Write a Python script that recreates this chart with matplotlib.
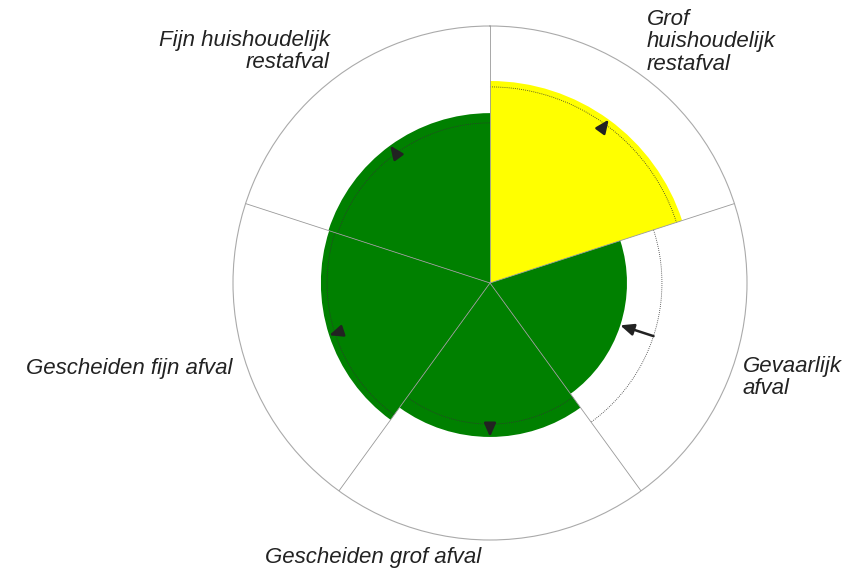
import numpy as np
import matplotlib
matplotlib.use("Agg")
import matplotlib.pyplot as plt

categories = ["Grof\nhuishoudelijk\nrestafval", "Gevaarlijk\nafval", "Gescheiden grof afval",
              "Gescheiden fijn afval", "Fijn huishoudelijk\nrestafval"]
current = [78.6, 53.3, 59.9, 65.8, 66.1]
previous = [76.3, 66.9, 54.9, 63.4, 62.3]
colors = ["#ffff00", "#008000", "#008000", "#008000", "#008000"]
rmax = 100

W, H = 862, 572
fig = plt.figure(figsize=(W / 100, H / 100), dpi=100)
cx, cy, R = 490, 283, 257
ax = fig.add_axes([(cx - R) / W, (H - cy - R) / H, 2 * R / W, 2 * R / H], projection="polar")
ax.set_theta_zero_location("N")
ax.set_theta_direction(-1)
n = len(categories)
width = 2 * np.pi / n
starts = np.arange(n) * width
ax.bar(starts, current, width=width, align="edge", color=colors, edgecolor="none", zorder=2)

for i in range(n):
    th = np.linspace(starts[i], starts[i] + width, 100)
    ax.plot(th, np.full_like(th, previous[i]), linestyle=(0, (1, 1.5)), color="#333333",
            linewidth=0.6, zorder=3)
    mid = starts[i] + width / 2
    ax.annotate("", xy=(mid, current[i]), xytext=(mid, previous[i]),
                arrowprops=dict(arrowstyle="-|>,head_length=0.8,head_width=0.35", color="#222222",
                                lw=1.8, shrinkA=0, shrinkB=0), zorder=4)

# spokes at sector boundaries
for s in starts:
    ax.plot([s, s], [0, rmax], color="#999999", linewidth=0.6, zorder=3)

ax.set_ylim(0, rmax)
ax.set_xticks([])
ax.set_yticks([])
ax.grid(False)
ax.spines["polar"].set_color("#aaaaaa")
ax.spines["polar"].set_linewidth(0.8)

tkw = dict(fontsize=16, style="italic", color="#222222", family=["Liberation Sans", "DejaVu Sans"],
           linespacing=1.08)
fig.text(647 / W, 1 - 9 / H, categories[0], ha="left", va="top", **tkw)
fig.text(743 / W, 1 - 356 / H, categories[1], ha="left", va="top", **tkw)
fig.text(265 / W, 1 - 547 / H, categories[2], ha="left", va="top", **tkw)
fig.text(233 / W, 1 - 358 / H, categories[3], ha="right", va="top", **tkw)
fig.text(330 / W, 1 - 30 / H, categories[4], ha="right", va="top", multialignment="right", **tkw)

fig.savefig("out.png", dpi=100, facecolor="white")
